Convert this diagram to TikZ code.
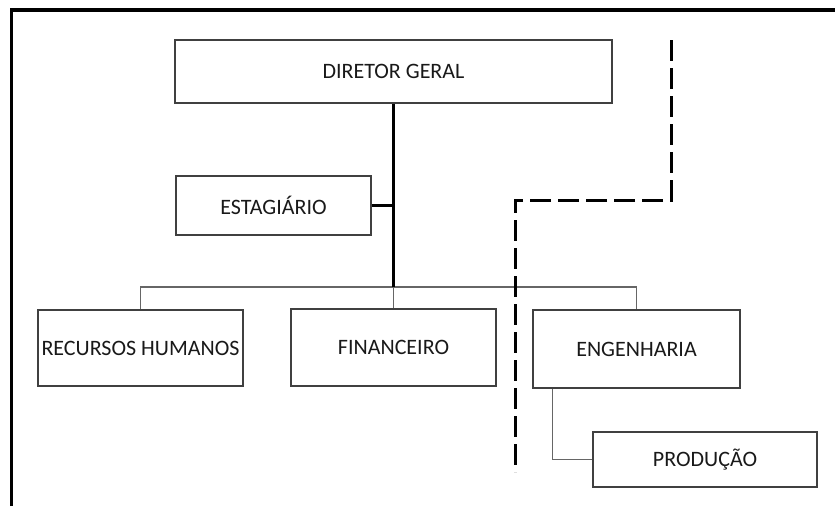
\documentclass[tikz,border=0pt]{standalone}
\usepackage{fontspec}
\setmainfont{Carlito}
\usetikzlibrary{positioning}

\tikzset{
    unit/.style={draw=black!75, line width=1.5pt, inner sep=0pt, align=center,
        font=\fontsize{22}{26}\selectfont, text=black!90},
    link/.style={draw=black!60, line width=1.4pt},
    trunk/.style={draw=black, line width=2.2pt},
    border/.style={dash pattern=on 21pt off 7pt, line width=3pt}
}

\begin{document}
\begin{tikzpicture}[x=1pt, y=-1pt]
        \useasboundingbox (0,0) rectangle (835,506);

        % frame of the screenshot
        \draw[line width=3.5pt] (11.5,506) -- (11.5,10) -- (835,10);

        % boxes
        \node[unit, minimum width=437pt, minimum height=63pt] (dg) at (393.5,71.5) {DIRETOR GERAL};
        \node[unit, minimum width=195pt, minimum height=59pt] (est) at (273.5,205.5) {ESTAGIÁRIO};
        \node[unit, minimum width=205pt, minimum height=76pt] (rh) at (140.5,348) {RECURSOS HUMANOS};
        \node[unit, minimum width=205pt, minimum height=77pt] (fin) at (393.5,347.5) {FINANCEIRO};
        \node[unit, minimum width=207pt, minimum height=78pt] (eng) at (636.5,349) {ENGENHARIA};
        \node[unit, minimum width=224pt, minimum height=55pt] (prod) at (705,459.5) {PRODUÇÃO};

        \coordinate (hub) at (393.5,287);
        \coordinate (engfoot) at ([xshift=20pt]eng.south west);

        % connectors
        \draw[link] (rh.north) |- (hub) -| (eng.north);
        \draw[link] (hub) -- (fin.north);
        \draw[link] (engfoot) |- (prod.west);
        \draw[trunk] (est.east) -- (est.east -| dg.south);
        \draw[trunk] (dg.south) -- (hub);

        % dashed boundary
        \draw[border] (671,40) -- (671,200) -- (515,200) -- (515,472);
    \end{tikzpicture}
\end{document}
